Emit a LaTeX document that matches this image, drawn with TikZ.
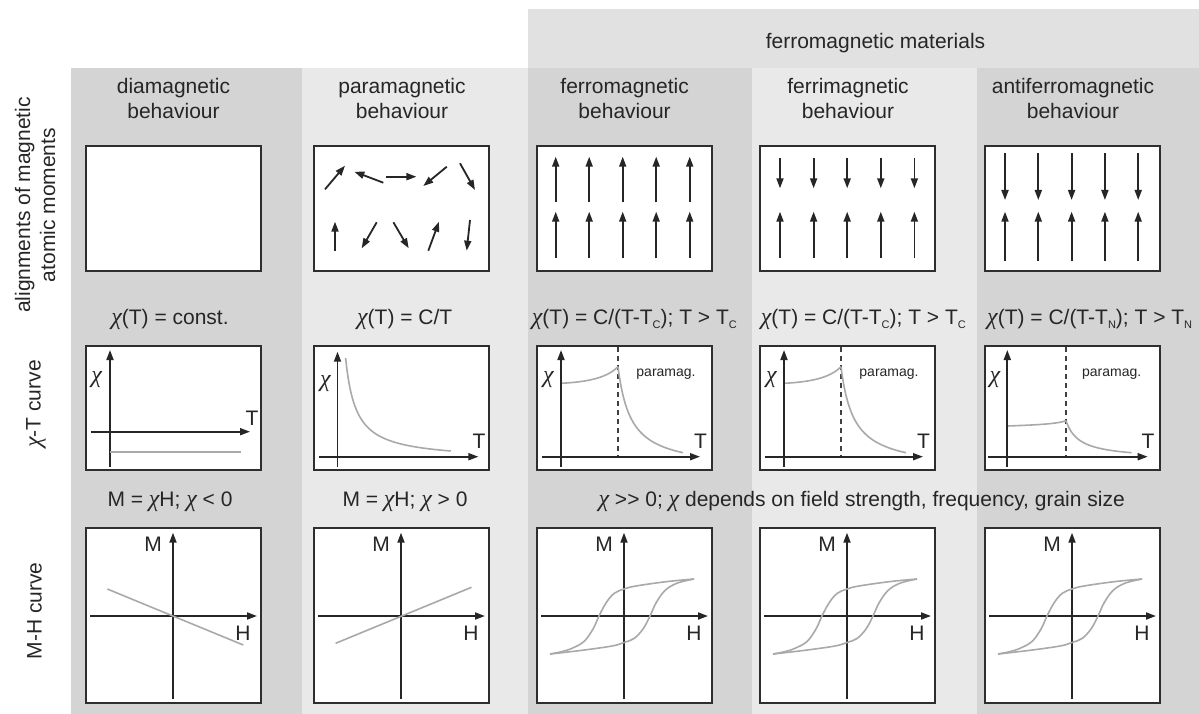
\documentclass[tikz,border=0pt]{standalone}
\usepackage{fontspec}
\setmainfont{Liberation Sans}
\newfontfamily\chifont{Liberation Serif}
\usetikzlibrary{arrows.meta}
\newcommand{\cx}{{\chifont\itshape\fontsize{24}{24}\selectfont χ}}
\newcommand{\subc}[1]{\raisebox{-0.45ex}{\fontsize{11}{11}\selectfont #1}}
\definecolor{bgdark}{HTML}{D4D4D4}
\definecolor{bglight}{HTML}{E9E9E9}
\definecolor{bgband}{HTML}{E1E1E1}
\definecolor{boxline}{HTML}{2E2E2E}
\definecolor{curvecol}{HTML}{A9A9A9}
\tikzset{
  panel/.style={draw=boxline, line width=2.2pt, fill=white},
  moment/.style={line width=1.8pt, draw=black!85, -{Triangle[length=10pt,width=7pt]}},
  axis/.style={line width=1.8pt, draw=black!85, -{Triangle[length=10pt,width=7pt]}},
  curv/.style={draw=curvecol, line width=1.6pt},
  tcdash/.style={draw=black!75, line width=1.1pt, dash pattern=on 5pt off 4pt},
  lbl/.style={font=\fontsize{21}{25}\selectfont, align=center, inner sep=0pt, text=black!85},
  smalllbl/.style={font=\fontsize{14}{16}\selectfont, inner sep=0pt, text=black!85}
}
\begin{document}
\begin{tikzpicture}[x=1pt,y=-1pt]
\useasboundingbox (0,0) rectangle (1199,714);
% backgrounds
\fill[bgband] (528,9) rectangle (1199,68);
\fill[bgdark] (71,68) rectangle (302,714);
\fill[bglight] (302,68) rectangle (528,714);
\fill[bgdark] (528,68) rectangle (752,714);
\fill[bglight] (752,68) rectangle (977,714);
\fill[bgdark] (977,68) rectangle (1199,714);
% band title
\node[lbl, anchor=base] (fm) at (875.5,48.5) {ferromagnetic materials};
% column headers
\foreach \c/\t/\n in {173.5/diamagnetic/h1, 402/paramagnetic/h2, 624.6/ferromagnetic/h3, 848/ferrimagnetic/h4, 1073/antiferromagnetic/h5}
  \node[lbl, anchor=base] (\n) at (\c,118.5) {\t\\behaviour};
% row labels
\node[lbl, rotate=90] (r1) at (35,205) {alignments of magnetic\\atomic moments};
\node[lbl, rotate=90] (r2) at (36,404) {\cx-T curve};
\node[lbl, rotate=90] (r3) at (34.5,611) {M-H curve};
% panels
\foreach \L in {86,314,537,760,985} {
  \draw[panel] (\L,146) rectangle ++(175,125);
  \draw[panel] (\L,346) rectangle ++(175,124);
  \draw[panel] (\L,528) rectangle ++(175,175);
}
% paramagnetic moments
\draw[moment] (325,189.3) -- (345,165.7);
\draw[moment] (383.3,182.7) -- (354.3,171.7);
\draw[moment] (385.8,176.7) -- (416.4,176.7);
\draw[moment] (446.8,166.7) -- (423.3,186);
\draw[moment] (460,163.3) -- (475,190);
\draw[moment] (335,250.7) -- (335,221.7);
\draw[moment] (376.7,222.3) -- (361.7,248.3);
\draw[moment] (393.4,222.3) -- (408.7,248.3);
\draw[moment] (428.3,250.7) -- (439,221.7);
\draw[moment] (470,220) -- (466.7,250.7);
% ferro / ferri / antiferro moments
\foreach \i in {0,...,4} {
  \draw[moment] ({555.7+33.5*\i},202.3) -- ({555.7+33.5*\i},156.7);
  \draw[moment] ({555.7+33.5*\i},258.3) -- ({555.7+33.5*\i},211.7);
  \draw[moment] ({780+33.6*\i},158.3) -- ({780+33.6*\i},188.3);
  \draw[moment] ({780+33.6*\i},258.3) -- ({780+33.6*\i},211.7);
  \draw[moment] ({1005+33.3*\i},153.3) -- ({1005+33.3*\i},200);
  \draw[moment] ({1005+33.3*\i},261) -- ({1005+33.3*\i},211.7);
}
% chi(T) texts
\node[lbl, anchor=base] (t1) at (170,324) {\cx(T) = const.};
\node[lbl, anchor=base] (t2) at (404.7,324) {\cx(T) = C/T};
\node[lbl, anchor=base west] (t3) at (531.7,324) {\cx(T) = C/(T-T\subc{C}); T > T\subc{C}};
\node[lbl, anchor=base west] (t4) at (760.7,324) {\cx(T) = C/(T-T\subc{C}); T > T\subc{C}};
\node[lbl, anchor=base west] (t5) at (987,324) {\cx(T) = C/(T-T\subc{N}); T > T\subc{N}};
% chi-T col1
\draw[axis] (110,466.7) -- (110,350);
\draw[axis] (90.7,431.7) -- (250,431.7);
\draw[curv] (110,451.7) -- (240.7,451.7);
\node[lbl] (x1) at (96.7,380) {\cx};
\node[lbl] (T1) at (252,418) {T};
% chi-T col2
\draw[curv] plot[domain=0:1,samples=80,smooth] ({345.6+105.2*\x},{451-93*1.1*(0.1/(\x+0.1)-0.1/1.1)});
\draw[axis] (337.5,467) -- (337.5,351.7);
\draw[axis] (318.8,456.7) -- (478.4,456.7);
\node[lbl] (x2) at (325.3,383.3) {\cx};
\node[lbl] (T2) at (479,441.7) {T};
% chi-T ferro and ferri
\foreach \L/\n in {537/3, 760/4} {
  \draw[tcdash] ({\L+81},347) -- ({\L+81},456.7);
  \draw[curv] ({\L+24},383.3) .. controls ({\L+50},382) and ({\L+70},378) .. ({\L+81},366.7);
  \draw[curv] plot[domain=0:1,samples=60,smooth] ({\L+81+65*\x},{452.7-86*(1.2*0.2/(\x+0.2)-0.2)});
  \draw[axis] ({\L+24},466.7) -- ({\L+24},350);
  \draw[axis] ({\L+4.7},456.7) -- ({\L+163},456.7);
  \node[lbl] (x\n) at ({\L+11.3},380) {\cx};
  \node[lbl] (T\n) at ({\L+163.5},441.7) {T};
  \node[smalllbl] (p\n) at ({\L+129},374) {paramag.};
}
% chi-T antiferro
\draw[tcdash] (1066,347) -- (1066,456.7);
\draw[curv] (1007.3,426) .. controls (1035,425) and (1057,424) .. (1066,420.7);
\draw[curv] plot[domain=0:1,samples=60,smooth] ({1066+65.7*\x},{452.7-32*(1.2*0.2/(\x+0.2)-0.2)});
\draw[axis] (1007.3,466.7) -- (1007.3,350);
\draw[axis] (988.3,456.7) -- (1147.7,456.7);
\node[lbl] (x5) at (995,380) {\cx};
\node[lbl] (T5) at (1148,441.7) {T};
\node[smalllbl] (p5) at (1111.7,374) {paramag.};
% M-H texts
\node[lbl, anchor=base] (m1) at (170,506) {M = \cx H; \cx{} < 0};
\node[lbl, anchor=base] (m2) at (405,506) {M = \cx H; \cx{} > 0};
\node[lbl, anchor=base] (m3) at (861.7,506) {\cx{} >{}> 0; \cx{} depends on field strength, frequency, grain size};
% M-H axes
\foreach \L/\n in {86/1,314/2,537/3,760/4,985/5} {
  \draw[axis] ({\L+87},699) -- ({\L+87},532.7);
  \draw[axis] ({\L+4},616) -- ({\L+171},616);
  \node[lbl] (M\n) at ({\L+67},544) {M};
  \node[lbl] (H\n) at ({\L+157},633.3) {H};
}
\draw[curv] (107.3,589) -- (243.3,645);
\draw[curv] (335.6,643.3) -- (471.5,587.3);
\foreach \L in {537,760,985} {
  \begin{scope}[shift={({\L+87},616)}]
    \draw[curv] plot[smooth, tension=0.6] coordinates {(70,-37) (42,-34.3) (12,-30) (0,-27) (-10,-22.5) (-18,-13) (-25,0) (-31,13) (-40,25.5) (-52,32.3) (-62,35.6) (-74,38)};
    \draw[curv] plot[smooth, tension=0.6] coordinates {(-74,38) (-42,34.3) (-12,30) (0,26.5) (10,22.5) (19,13) (26,0) (32,-13) (41,-25.5) (53,-32.8) (70,-37)};
  \end{scope}
}
\end{tikzpicture}
\end{document}
